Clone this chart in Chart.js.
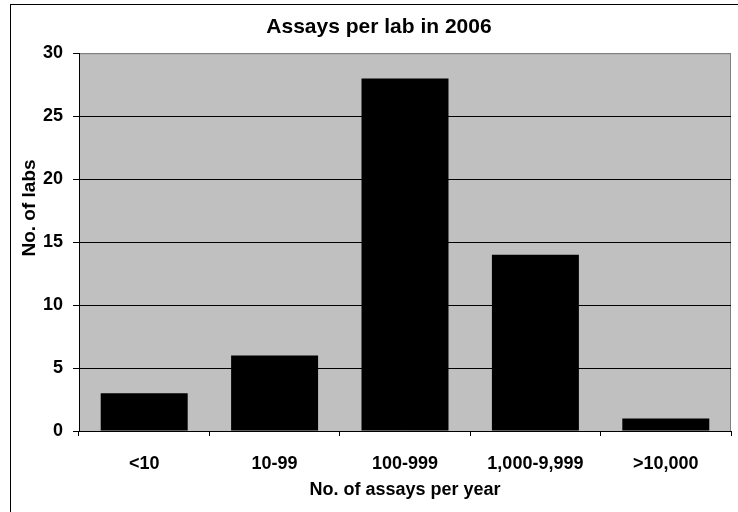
<!DOCTYPE html>
<html>
<head>
<meta charset="utf-8">
<script src="https://cdn.jsdelivr.net/npm/chart.js@4"></script>
<style>
  html, body { margin: 0; padding: 0; background: #fff; }
  #wrap { width: 738px; height: 512px; }
</style>
</head>
<body>
<div id="wrap"><canvas id="grafica1" width="738" height="512"></canvas></div>
<script>
var categorias = ['<10', '10-99', '100-999', '1,000-9,999', '>10,000'];
var labs = [3, 6, 28, 14, 1];
var yTicks = [0, 5, 10, 15, 20, 25, 30];

var titulo = 'Assays per lab in 2006';
var tituloX = 'No. of assays per year';
var tituloY = 'No. of labs';

var fuente = '"Liberation Sans", Arial, sans-serif';

// fondo gris del area del grafico + marco exterior + titulo del eje Y
var decoracion = {
    id: 'decoracion',
    beforeDraw: function(chart) {
        var a = chart.chartArea;
        var ctx = chart.ctx;
        ctx.save();
        ctx.fillStyle = '#fff';
        ctx.fillRect(0, 0, chart.width, chart.height);
        ctx.fillStyle = '#c0c0c0';
        ctx.fillRect(a.left, a.top, a.right - a.left, a.bottom - a.top);
        ctx.strokeStyle = '#808080';
        ctx.lineWidth = 1;
        ctx.strokeRect(a.left + 0.5, a.top + 0.5, a.right - a.left - 1, a.bottom - a.top);
        ctx.restore();
    },
    afterDraw: function(chart) {
        var ctx = chart.ctx;
        ctx.save();
        ctx.strokeStyle = '#000';
        ctx.lineWidth = 1;
        ctx.strokeRect(10.5, 4.5, 800, 600);
        ctx.translate(30, 208);
        ctx.rotate(-Math.PI / 2);
        ctx.font = 'bold 19px ' + fuente;
        ctx.fillStyle = '#000';
        ctx.textAlign = 'center';
        ctx.textBaseline = 'middle';
        ctx.fillText(tituloY, 0, 0);
        ctx.restore();
    }
};

var ctx = document.getElementById('grafica1').getContext('2d');
var myChart = new Chart(ctx, {
    type: 'bar',
    data: {
        labels: categorias,
        datasets: [{
            label: tituloY,
            data: labs,
            backgroundColor: '#000',
            borderWidth: 0,
            barPercentage: 0.667,
            categoryPercentage: 1
        }]
    },
    options: {
        responsive: false,
        animation: false,
        layout: { padding: { left: 27, right: 7, top: 0, bottom: 0 } },
        plugins: {
            legend: { display: false },
            tooltip: { enabled: false },
            title: {
                display: true,
                text: titulo,
                color: '#000',
                font: { family: fuente, size: 21, weight: 'bold' },
                padding: { top: 15, bottom: 13 }
            }
        },
        scales: {
            x: {
                afterFit: function(scale) { scale.height = 81; },
                grid: {
                    drawOnChartArea: false,
                    drawTicks: true,
                    tickLength: 5,
                    tickColor: '#000'
                },
                border: { color: '#000', width: 1 },
                ticks: {
                    color: '#000',
                    padding: 17,
                    font: { family: fuente, size: 18, weight: 'bold' }
                },
                title: {
                    display: true,
                    text: tituloX,
                    color: '#000',
                    font: { family: fuente, size: 18, weight: 'bold' },
                    padding: { top: 0, bottom: 11 }
                }
            },
            y: {
                min: 0,
                max: 30,
                afterFit: function(scale) { scale.width = 52; },
                afterBuildTicks: function(scale) {
                    scale.ticks = yTicks.map(function(v) { return { value: v }; });
                },
                grid: {
                    color: function(c) { return c.tick && c.tick.value === 30 ? '#808080' : '#000'; },
                    tickColor: '#000',
                    tickLength: 6
                },
                border: { color: '#000', width: 1 },
                ticks: {
                    color: '#000',
                    padding: 10,
                    font: { family: fuente, size: 18, weight: 'bold' }
                }
            }
        }
    },
    plugins: [decoracion]
});
</script>
</body>
</html>
